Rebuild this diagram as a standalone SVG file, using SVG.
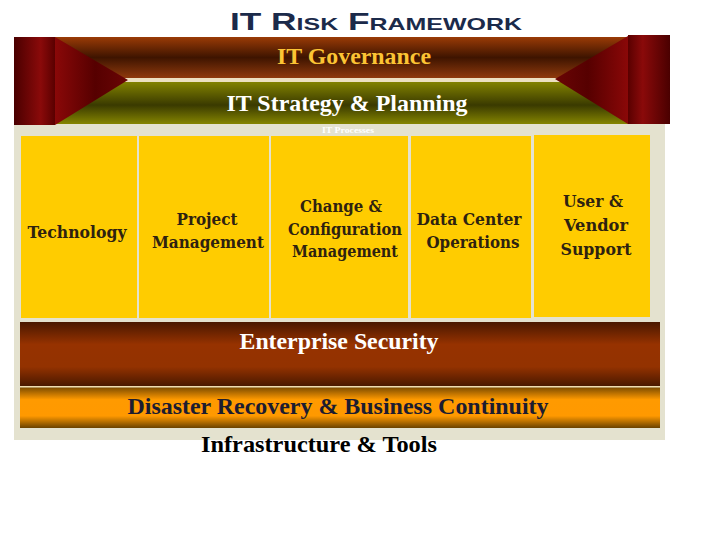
<svg xmlns="http://www.w3.org/2000/svg" width="720" height="540" viewBox="0 0 720 540">
<defs>
<linearGradient id="gGov" x1="0" y1="0" x2="0" y2="1">
<stop offset="0" stop-color="#9a3b06"/><stop offset="0.5" stop-color="#3e1400"/><stop offset="1" stop-color="#8f3a0c"/>
</linearGradient>
<linearGradient id="gStrat" x1="0" y1="0" x2="0" y2="1">
<stop offset="0" stop-color="#828200"/><stop offset="0.55" stop-color="#3a3a00"/><stop offset="1" stop-color="#858500"/>
</linearGradient>
<linearGradient id="gLStrip" x1="0" y1="0" x2="1" y2="0">
<stop offset="0" stop-color="#4a0000"/><stop offset="0.65" stop-color="#8a0a0a"/><stop offset="1" stop-color="#5a0000"/>
</linearGradient>
<linearGradient id="gRStrip" x1="0" y1="0" x2="1" y2="0">
<stop offset="0" stop-color="#5a0000"/><stop offset="0.35" stop-color="#8a0a0a"/><stop offset="1" stop-color="#4a0000"/>
</linearGradient>
<linearGradient id="gLTri" x1="0" y1="0" x2="1" y2="0">
<stop offset="0" stop-color="#8a0808"/><stop offset="0.55" stop-color="#560000"/><stop offset="1" stop-color="#6a0505"/>
</linearGradient>
<linearGradient id="gRTri" x1="0" y1="0" x2="1" y2="0">
<stop offset="0" stop-color="#6a0505"/><stop offset="0.45" stop-color="#560000"/><stop offset="1" stop-color="#8a0808"/>
</linearGradient>
<linearGradient id="gSec" x1="0" y1="0" x2="0" y2="1">
<stop offset="0" stop-color="#4a1800"/><stop offset="0.35" stop-color="#963200"/><stop offset="0.7" stop-color="#933200"/><stop offset="1" stop-color="#4a1800"/>
</linearGradient>
<linearGradient id="gDR" x1="0" y1="0" x2="0" y2="1">
<stop offset="0" stop-color="#7e4c00"/><stop offset="0.3" stop-color="#ff9a00"/><stop offset="0.7" stop-color="#ff9900"/><stop offset="1" stop-color="#6a4200"/>
</linearGradient>
<style>
.band{font-family:"Liberation Serif","Times New Roman",serif;font-weight:bold;font-size:24px;text-anchor:middle}
.box{fill:#ffcc00}
.bt{font-family:"DejaVu Serif","Liberation Serif",serif;font-weight:bold;font-size:17px;fill:#2e2210;text-anchor:middle}
</style>
</defs>

<g id="title">
<text x="376" y="30" font-family="'Liberation Sans',Arial,sans-serif" font-weight="bold" font-size="24" font-variant="small-caps" fill="#1b2a4a" text-anchor="middle" textLength="292" lengthAdjust="spacingAndGlyphs">IT Risk Framework</text>
</g>

<g id="panel">
<rect x="14" y="124" width="651" height="316" fill="#e4e2cf"/>
<text x="348" y="133" font-family="'Liberation Serif',serif" font-weight="bold" font-size="8" fill="#ffffff" text-anchor="middle" textLength="52" lengthAdjust="spacingAndGlyphs">IT Processes</text>
</g>

<g id="it-governance">
<rect x="55" y="37" width="573" height="41" fill="url(#gGov)"/>
<text class="band" x="354" y="64" fill="#fcc434" textLength="154" lengthAdjust="spacingAndGlyphs">IT Governance</text>
</g>
<rect x="55" y="78" width="573" height="4" fill="#ece0c0"/>
<g id="it-strategy">
<rect x="55" y="82" width="573" height="42" fill="url(#gStrat)"/>
<text class="band" x="347" y="111" fill="#ffffff" textLength="241" lengthAdjust="spacingAndGlyphs">IT Strategy &amp; Planning</text>
</g>

<g id="left-frame">
<rect x="14" y="37" width="41" height="88" fill="url(#gLStrip)"/>
<polygon points="55,37 128,80 55,125" fill="url(#gLTri)"/>
</g>
<g id="right-frame">
<rect x="628" y="35" width="42" height="89" fill="url(#gRStrip)"/>
<polygon points="628,36 555,79 628,124" fill="url(#gRTri)"/>
</g>

<g id="technology">
<rect class="box" x="21" y="136" width="116" height="182"/>
<text class="bt" x="77" y="238" textLength="99" lengthAdjust="spacingAndGlyphs">Technology</text>
</g>
<g id="project-management">
<rect class="box" x="139" y="136" width="130" height="182"/>
<text class="bt" x="207" y="225" textLength="61" lengthAdjust="spacingAndGlyphs">Project</text>
<text class="bt" x="208" y="248" textLength="112" lengthAdjust="spacingAndGlyphs">Management</text>
</g>
<g id="change-configuration-management">
<rect class="box" x="271" y="136" width="137" height="182"/>
<text class="bt" x="341" y="212" textLength="82" lengthAdjust="spacingAndGlyphs">Change &amp;</text>
<text class="bt" x="345" y="235" textLength="114" lengthAdjust="spacingAndGlyphs">Configuration</text>
<text class="bt" x="345" y="257" textLength="106" lengthAdjust="spacingAndGlyphs">Management</text>
</g>
<g id="data-center-operations">
<rect class="box" x="411" y="136" width="120" height="182"/>
<text class="bt" x="469" y="225" textLength="105" lengthAdjust="spacingAndGlyphs">Data Center</text>
<text class="bt" x="473" y="248" textLength="93" lengthAdjust="spacingAndGlyphs">Operations</text>
</g>
<g id="user-vendor-support">
<rect class="box" x="534" y="135" width="116" height="182"/>
<text class="bt" x="593" y="207" textLength="60" lengthAdjust="spacingAndGlyphs">User &amp;</text>
<text class="bt" x="596" y="231" textLength="64" lengthAdjust="spacingAndGlyphs">Vendor</text>
<text class="bt" x="596" y="255" textLength="71" lengthAdjust="spacingAndGlyphs">Support</text>
</g>

<g id="enterprise-security">
<rect x="20" y="322" width="640" height="64" fill="url(#gSec)"/>
<text class="band" x="339" y="349" fill="#ffffff" textLength="199" lengthAdjust="spacingAndGlyphs">Enterprise Security</text>
</g>
<rect x="20" y="386" width="640" height="1.5" fill="#f0dcb0"/>
<g id="disaster-recovery">
<rect x="20" y="387.5" width="640" height="40.5" fill="url(#gDR)"/>
<text class="band" x="338" y="414" fill="#1c1c30" textLength="421" lengthAdjust="spacingAndGlyphs">Disaster Recovery &amp; Business Continuity</text>
</g>

<g id="infrastructure-tools">
<text class="band" x="319" y="452" fill="#000000" textLength="236" lengthAdjust="spacingAndGlyphs">Infrastructure &amp; Tools</text>
</g>

<g id="connectors"></g>
</svg>
